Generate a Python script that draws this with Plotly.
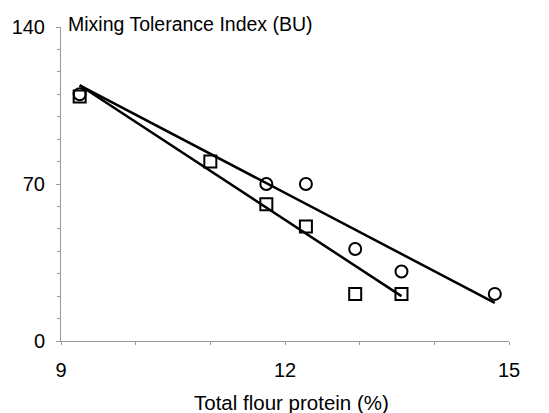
import plotly.graph_objects as go

# Data
circle_x = [9.25, 11.75, 12.28, 12.94, 13.56, 14.81]
circle_y = [110, 70, 70, 41, 31, 21]
square_x = [9.25, 11.0, 11.75, 12.28, 12.94, 13.56]
square_y = [109, 80, 61, 51, 21, 21]

# Fitted lines (endpoints)
fit_circle_x = [9.25, 14.81]
fit_circle_y = [114, 17]
fit_square_x = [9.25, 13.56]
fit_square_y = [114, 20]

x_ticks = [9, 12, 15]
y_ticks = [0, 70, 140]

FONT = "Liberation Sans, Arial, sans-serif"

fig = go.Figure()
fig.add_trace(go.Scatter(x=fit_circle_x, y=fit_circle_y, mode="lines",
                         line=dict(color="black", width=2.5), showlegend=False))
fig.add_trace(go.Scatter(x=fit_square_x, y=fit_square_y, mode="lines",
                         line=dict(color="black", width=2.5), showlegend=False))
fig.add_trace(go.Scatter(x=circle_x, y=circle_y, mode="markers",
                         marker=dict(symbol="circle-open", size=12, color="black",
                                     line=dict(width=2, color="black")),
                         showlegend=False))
fig.add_trace(go.Scatter(x=square_x, y=square_y, mode="markers",
                         marker=dict(symbol="square-open", size=12, color="black",
                                     line=dict(width=2, color="black")),
                         showlegend=False))

axis_color = "#9a9a9a"
fig.update_xaxes(range=[9, 15], tickvals=x_ticks, ticktext=[str(v) for v in x_ticks],
                 showgrid=False, zeroline=False, showline=True, linecolor=axis_color,
                 linewidth=1, ticks="outside", ticklen=3, tickcolor=axis_color,
                 ticklabelstandoff=8, automargin=False,
                 minor=dict(dtick=1, tick0=9, ticks="outside", ticklen=3, tickcolor=axis_color),
                 tickfont=dict(family=FONT, size=20, color="black"))
fig.update_yaxes(range=[0, 140], tickvals=y_ticks, ticktext=[str(v) for v in y_ticks],
                 showgrid=False, zeroline=False, showline=True, linecolor=axis_color,
                 linewidth=1, ticks="outside", ticklen=4, tickcolor=axis_color,
                 ticklabelstandoff=7, automargin=False,
                 minor=dict(dtick=10, tick0=0, ticks="outside", ticklen=3, tickcolor=axis_color),
                 tickfont=dict(family=FONT, size=20, color="black"))

fig.add_annotation(text="Mixing Tolerance Index (BU)", xref="paper", yref="paper",
                   x=0.012, y=1.0, xanchor="left", yanchor="middle", showarrow=False,
                   yshift=3, font=dict(family=FONT, size=19.5, color="black"))
fig.add_annotation(text="Total flour protein (%)", xref="paper", yref="paper",
                   x=0.5145, y=-0.197, xanchor="center", yanchor="middle", showarrow=False,
                   font=dict(family=FONT, size=20.5, color="black"))

fig.update_layout(width=549, height=413, paper_bgcolor="white", plot_bgcolor="white",
                  margin=dict(l=61, r=40, t=27, b=72))

fig.write_html("out.html")
